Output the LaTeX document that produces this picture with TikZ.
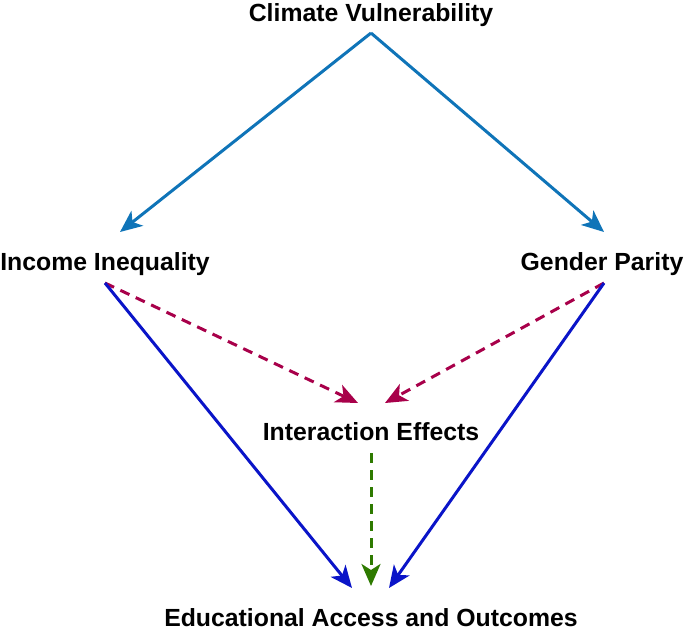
\documentclass[tikz,border=0pt]{standalone}
\usepackage{fontspec}
\setmainfont{Liberation Sans}
\usetikzlibrary{arrows.meta}
\definecolor{topblue}{HTML}{0F74B8}
\definecolor{deepblue}{HTML}{0A14C8}
\definecolor{crim}{HTML}{A8004A}
\definecolor{dgreen}{HTML}{2E7A00}
\begin{document}
\begin{tikzpicture}[x=1pt,y=-1pt,
  lbl/.style={font=\fontsize{24.8}{28}\selectfont\bfseries, inner sep=0pt, anchor=base},
  arr/.style={line width=3pt, -{Stealth[length=22pt,width=19pt,inset=6pt]}},
  dsh/.style={arr, dash pattern=on 10pt off 7pt}]
\useasboundingbox (0,0) rectangle (685,633);
\node[lbl] (cv) at (371,21) {Climate Vulnerability};
\node[lbl] (ii) at (105,270) {Income Inequality};
\node[lbl] (gp) at (602,270) {Gender Parity};
\node[lbl] (ie) at (371,440) {Interaction Effects};
\node[lbl] (ea) at (371,626) {Educational Access and Outcomes};
\coordinate (cvs) at (371,33);
\coordinate (iie) at (120,232);
\coordinate (gpe) at (604,232);
\coordinate (iis) at (105,283);
\coordinate (gps) at (604,283);
\coordinate (iel) at (358,403);
\coordinate (ier) at (385,403);
\coordinate (ies) at (371,453);
\coordinate (eam) at (371,586);
\coordinate (eal) at (352,588);
\coordinate (ear) at (389,588);
\draw[arr, topblue] (cvs) -- (iie);
\draw[arr, topblue] (cvs) -- (gpe);
\draw[dsh, crim] (iis) -- (iel);
\draw[dsh, crim] (gps) -- (ier);
\draw[dsh, dgreen] (ies) -- (eam);
\draw[arr, deepblue] (iis) -- (eal);
\draw[arr, deepblue] (gps) -- (ear);
\end{tikzpicture}
\end{document}
